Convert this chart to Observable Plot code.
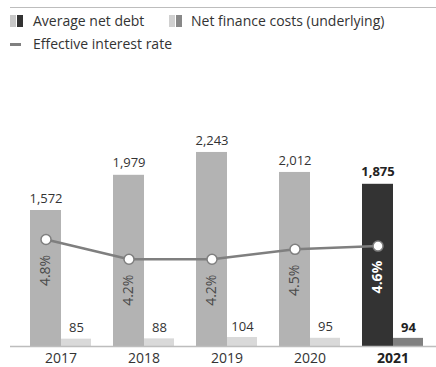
<!DOCTYPE html>
<html>
<head>
<meta charset="utf-8">
<script src="https://cdn.jsdelivr.net/npm/d3@7"></script>
<script src="https://cdn.jsdelivr.net/npm/@observablehq/plot@0.6"></script>
<style>
  body { margin: 0; background: #fff; font-family: "Open Sans", sans-serif; color: #333; }
  #wrap { position: relative; width: 436px; height: 367px; overflow: hidden; }
  #topline { position: absolute; left: 10px; right: 0; top: 7px; border-top: 1.5px solid #bdbdbd; }
  .leg { position: absolute; font-size: 14px; line-height: 16px; display: flex; align-items: center; white-space: nowrap; }
  .sw { display: inline-block; flex: none; width: 6px; height: 12px; }
  .dash { display: inline-block; flex: none; width: 11px; height: 3px; background: #808080; margin-right: 12px; }
  #chart { position: absolute; left: 0; top: 60px; }
</style>
</head>
<body>
<div id="wrap">
  <div id="topline"></div>
  <div class="leg" style="left:10px; top:13px;"><span class="sw" style="background:#c8c8c8"></span><span class="sw" style="background:#333;margin-left:1px;margin-right:10px"></span>Average net debt</div>
  <div class="leg" style="left:169px; top:13px;"><span class="sw" style="background:#d0d0d0"></span><span class="sw" style="background:#888;margin-left:1px;margin-right:9px"></span>Net finance costs (underlying)</div>
  <div class="leg" style="left:10px; top:36px;"><span class="dash"></span>Effective interest rate</div>
  <div id="chart"></div>
</div>
<script>
const years = ["2017", "2018", "2019", "2020", "2021"];
const netDebt = [1572, 1979, 2243, 2012, 1875];
const financeCosts = [85, 88, 104, 95, 94];
const interestRate = [4.8, 4.2, 4.2, 4.5, 4.6];
const highlightYear = "2021";

const rows = years.map((year, i) => ({
  year, debt: netDebt[i], cost: financeCosts[i], rate: interestRate[i], hl: year === highlightYear
}));
// secondary (rate) axis expressed in the debt axis units
const rateToY = r => r * 380 - 587;
const fmt = d3.format(",");
const normal = rows.filter(d => !d.hl);
const hi = rows.filter(d => d.hl);

const chart = Plot.plot({
  width: 436, height: 307,
  marginLeft: 10, marginRight: 0, marginTop: 0, marginBottom: 21,
  x: { domain: years, paddingInner: 0.267, paddingOuter: 0.192, align: 0.594, axis: null },
  y: { domain: [0, 3306], axis: null },
  color: { type: "identity" },
  style: { fontFamily: "'Open Sans', sans-serif", fontSize: "13px", color: "#333", background: "white", overflow: "visible" },
  marks: [
    Plot.barY(rows, { x: "year", y: "debt", fill: d => d.hl ? "#333333" : "#b3b3b3", insetRight: 30 }),
    Plot.barY(rows, { x: "year", y: "cost", fill: d => d.hl ? "#808080" : "#d9d9d9", insetLeft: 31 }),
    Plot.ruleY([0], { stroke: "#bdbdbd", strokeWidth: 1.5 }),
    Plot.line(rows, { x: "year", y: d => rateToY(d.rate), dx: -15, stroke: "#7f7f7f", strokeWidth: 2.5 }),
    Plot.dot(rows, { x: "year", y: d => rateToY(d.rate), dx: -15, r: 5, fill: "white", stroke: "#7f7f7f", strokeWidth: 1.5 }),
    // rate labels
    Plot.text(normal, { x: "year", y: d => rateToY(d.rate), dx: -15, dy: 31, rotate: -90, text: d => d.rate.toFixed(1) + "%", fill: "#4a4a4a", fontSize: 14 }),
    Plot.text(hi, { x: "year", y: d => rateToY(d.rate), dx: -15, dy: 31, rotate: -90, text: d => d.rate.toFixed(1) + "%", fill: "white", fontSize: 14, fontWeight: "bold" }),
    // value labels
    Plot.text(normal, { x: "year", y: "debt", dx: -15, dy: -12, text: d => fmt(d.debt), fill: "#333", fontSize: 13 }),
    Plot.text(hi, { x: "year", y: "debt", dx: -15, dy: -12, text: d => fmt(d.debt), fill: "#222", fontSize: 13, fontWeight: "bold" }),
    Plot.text(normal, { x: "year", y: "cost", dx: 15.5, dy: -11, text: d => fmt(d.cost), fill: "#333", fontSize: 13 }),
    Plot.text(hi, { x: "year", y: "cost", dx: 15.5, dy: -11, text: d => fmt(d.cost), fill: "#222", fontSize: 13, fontWeight: "bold" }),
    // year labels
    Plot.text(normal, { x: "year", y: () => 0, dy: 12.5, text: "year", fill: "#333", fontSize: 14 }),
    Plot.text(hi, { x: "year", y: () => 0, dy: 12.5, text: "year", fill: "#222", fontSize: 14, fontWeight: "bold" })
  ]
});
document.getElementById("chart").appendChild(chart);
</script>
</body>
</html>
